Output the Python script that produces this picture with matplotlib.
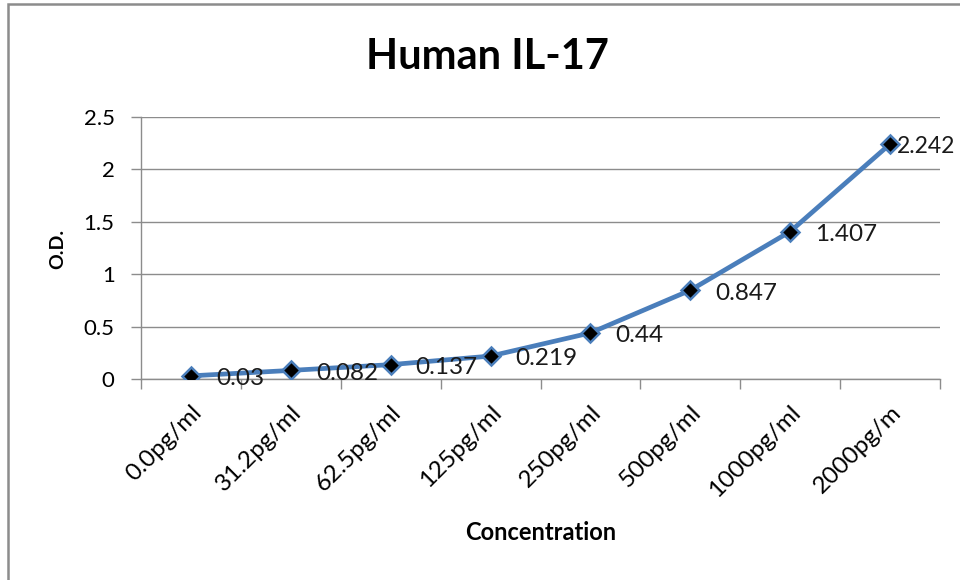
import matplotlib
matplotlib.use("Agg")
import matplotlib.pyplot as plt
import numpy as np
from matplotlib.patches import Rectangle

# data
concentrations = ["0.0pg/ml", "31.2pg/ml", "62.5pg/ml", "125pg/ml",
                  "250pg/ml", "500pg/ml", "1000pg/ml", "2000pg/m"]
od_values = [0.03, 0.082, 0.137, 0.219, 0.44, 0.847, 1.407, 2.242]
od_labels = ["0.03", "0.082", "0.137", "0.219", "0.44", "0.847", "1.407", "2.242"]
y_ticks = [0, 0.5, 1, 1.5, 2, 2.5]
y_ticklabels = ["0", "0.5", "1", "1.5", "2", "2.5"]

plt.rcParams["font.family"] = ["Lato", "DejaVu Sans"]

fig = plt.figure(figsize=(9.6, 5.8), dpi=100)
W, H = 960, 580

# chart border (cropped on the right and bottom in the reference)
fig.patches.append(Rectangle((8 / W, -0.1), 1.2, 1 - 4 / H + 0.1,
                             transform=fig.transFigure, fill=False,
                             edgecolor="#8c8c8c", linewidth=1.8))

ax = fig.add_axes([141 / W, 1 - 379 / H, (940 - 141) / W, (379 - 117) / H])

x = np.arange(len(concentrations))
ax.plot(x, od_values, color="#4a7ebb", linewidth=3.4, zorder=3,
        marker="D", markersize=9.5, markerfacecolor="black",
        markeredgecolor="#4a7ebb", markeredgewidth=1.8)

for i, (xi, yi, lab) in enumerate(zip(x, od_values, od_labels)):
    dx = 18 if i < len(x) - 1 else 5   # last label squeezed to fit, as in Excel
    fs = 17.5 if i < len(x) - 1 else 16.5
    ax.annotate(lab, (xi, yi), xytext=(dx, -2), textcoords="offset points",
                ha="left", va="center", fontsize=fs, color="#1a1a1a",
                zorder=4, annotation_clip=False)

ax.set_xlim(-0.5, len(concentrations) - 0.5)
ax.set_ylim(0, 2.5)
ax.set_yticks(y_ticks)
ax.set_yticklabels(y_ticklabels, fontsize=16)
ax.yaxis.grid(True, color="#8c8c8c", linewidth=1.0)
ax.set_axisbelow(True)

ax.set_xticks(x)
ax.set_xticklabels(concentrations, rotation=45, ha="right",
                   rotation_mode="anchor", fontsize=17.5)
ax.tick_params(axis="x", which="major", length=0, pad=16)
ax.set_xticks(np.arange(-0.5, len(concentrations)), minor=True)
ax.tick_params(axis="x", which="minor", length=7, color="#8c8c8c", width=1.0)
ax.tick_params(axis="y", length=7, color="#8c8c8c", width=1.0, pad=12)

for side in ["top", "right"]:
    ax.spines[side].set_visible(False)
for side in ["left", "bottom"]:
    ax.spines[side].set_color("#8c8c8c")
    ax.spines[side].set_linewidth(1.0)

fig.text(487 / W, 1 - 57 / H, "Human IL-17", ha="center", va="center",
         fontsize=30, fontweight="bold")
fig.text(58 / W, 1 - 249 / H, "O.D.", ha="center", va="center",
         rotation=90, fontsize=14, fontweight="bold")
fig.text(541 / W, 1 - 533 / H, "Concentration", ha="center", va="center",
         fontsize=17, fontweight="bold")

fig.savefig("out.png", dpi=100)
